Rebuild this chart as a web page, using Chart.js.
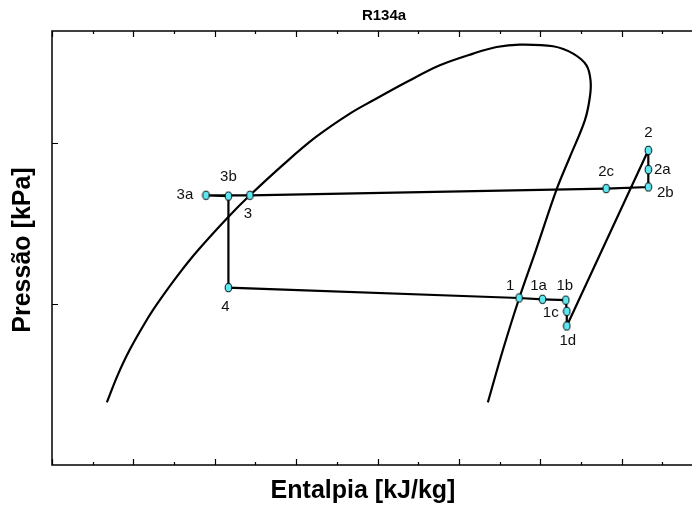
<!DOCTYPE html>
<html>
<head>
<meta charset="utf-8">
<script src="https://cdn.jsdelivr.net/npm/chart.js@4.4.1/dist/chart.umd.min.js"></script>
<style>
  html, body { margin: 0; padding: 0; background: #fff; overflow: hidden; }
  #wrap { width: 692px; height: 506px; overflow: hidden; }
</style>
</head>
<body>
<div id="wrap"><canvas id="phChart" width="720" height="506"></canvas></div>
<script>
// saturation dome (liquid side up to critical point, then vapour side down)
var satH = [133.7, 140.3, 147.6, 159.3, 166.1, 177.3, 189.7, 208.3, 221.6, 242.8, 262.2, 283.0, 297.4, 317.9, 338.3,
  358.8, 373.2, 387.5, 407.9, 420.2, 428.4, 430.9, 430.5, 427.4, 418.2, 410.0, 397.3, 387.1, 377.0, 367.8];
var satP = [24.5, 36.1, 51.7, 83.2, 105.7, 151.2, 216.3, 348.6, 475.5, 748.8, 1096, 1532, 1854, 2409, 3060,
  3618, 3977, 4116, 4017, 3618, 3060, 2469, 1944, 1392, 823, 516, 216.3, 109.3, 51.7, 24.5];

// cycle state points
var stateNames = ['1', '1a', '1b', '1c', '1d', '2', '2a', '2b', '2c', '3', '3a', '3b', '4'];
var stateH = [387.0, 401.4, 415.7, 416.3, 416.3, 466.4, 466.4, 466.4, 440.5, 221.6, 194.6, 208.4, 208.4];
var stateP = [109.3, 107.3, 106.0, 90.3, 73.2, 905.7, 687.0, 535.7, 523.6, 475.5, 475.5, 470.0, 126.8];
var cycleOrder = ['1', '1a', '1b', '1c', '1d', '2', '2a', '2b', '2c', '3', '3a', '3b', '4', '1'];

// axis ticks (no tick labels in the original)
var hTicks = [100, 125, 150, 175, 200, 225, 250, 275, 300, 325, 350, 375, 400, 425, 450, 475, 500];
var pTicks = [100, 1000];

// where each state label sits relative to its marker
var labelOffsets = {
  '1': [-9, -12], '1a': [-4, -13], '1b': [-1, -14], '1c': [-16, 2], '1d': [1, 15],
  '2': [0, -17], '2a': [14, 0], '2b': [17, 6], '2c': [0, -17],
  '3': [-2, 19], '3a': [-21, 0], '3b': [0, -19], '4': [-3, 19]
};

var domePoints = satH.map(function (h, i) {
  return { x: h, y: satP[i] };
});
var cyclePoints = cycleOrder.map(function (name) {
  var i = stateNames.indexOf(name);
  return { x: stateH[i], y: stateP[i] };
});
var markerPoints = stateNames.map(function (name, i) {
  return { x: stateH[i], y: stateP[i] };
});

// small oval marker like the original
var marker = document.createElement('canvas');
marker.width = 9;
marker.height = 11;
var mctx = marker.getContext('2d');
mctx.beginPath();
mctx.ellipse(4.5, 5.5, 3.3, 4.2, 0, 0, Math.PI * 2);
mctx.fillStyle = '#5ee8f2';
mctx.fill();
mctx.lineWidth = 1;
mctx.strokeStyle = '#000';
mctx.stroke();

var framePlugin = {
  id: 'frame',
  afterDraw: function (chart) {
    var ctx = chart.ctx;
    var a = chart.chartArea;
    var x = chart.scales.x;
    var y = chart.scales.y;
    ctx.save();
    ctx.strokeStyle = '#000';
    ctx.lineWidth = 1.5;
    ctx.strokeRect(a.left, a.top, a.right - a.left, a.bottom - a.top);

    ctx.lineWidth = 1.2;
    ctx.beginPath();
    hTicks.forEach(function (h) {
      var px = Math.round(x.getPixelForValue(h)) + 0.5;
      var len = (h % 50 === 0) ? 6 : 3;
      ctx.moveTo(px, a.bottom);
      ctx.lineTo(px, a.bottom - len);
      ctx.moveTo(px, a.top);
      ctx.lineTo(px, a.top + len);
    });
    pTicks.forEach(function (p) {
      var py = Math.round(y.getPixelForValue(p)) + 0.5;
      ctx.moveTo(a.left, py);
      ctx.lineTo(a.left + 6, py);
    });
    ctx.stroke();

    // state labels
    ctx.fillStyle = '#111';
    ctx.font = '15px "Liberation Sans", Arial, sans-serif';
    ctx.textAlign = 'center';
    ctx.textBaseline = 'middle';
    stateNames.forEach(function (name, i) {
      var off = labelOffsets[name];
      ctx.fillText(name, x.getPixelForValue(stateH[i]) + off[0], y.getPixelForValue(stateP[i]) + off[1]);
    });

    // titles
    ctx.fillStyle = '#000';
    ctx.font = 'bold 15px "Liberation Sans", Arial, sans-serif';
    ctx.fillText('R134a', 384, 16);
    ctx.font = 'bold 25px "Liberation Sans", Arial, sans-serif';
    ctx.textBaseline = 'alphabetic';
    ctx.fillText('Entalpia [kJ/kg]', 363, 498);
    ctx.translate(30, 250);
    ctx.rotate(-Math.PI / 2);
    ctx.fillText('Pressão [kPa]', 0, 0);
    ctx.restore();
  }
};

var phCtx = document.getElementById('phChart').getContext('2d');
var phChart = new Chart(phCtx, {
  type: 'scatter',
  data: {
    datasets: [{
      label: 'Saturação',
      data: domePoints,
      showLine: true,
      borderColor: '#000',
      borderWidth: 2.2,
      pointRadius: 0,
      tension: 0.35,
      fill: false,
      order: 2
    }, {
      label: 'Ciclo',
      data: cyclePoints,
      showLine: true,
      borderColor: '#000',
      borderWidth: 2.2,
      pointRadius: 0,
      tension: 0,
      fill: false,
      order: 1
    }, {
      label: 'Estados',
      data: markerPoints,
      showLine: false,
      pointStyle: marker,
      pointRadius: 4,
      order: 0
    }]
  },
  options: {
    responsive: false,
    animation: false,
    layout: {
      padding: { left: 52, right: 17, top: 31, bottom: 41 }
    },
    plugins: {
      legend: { display: false },
      tooltip: { enabled: false },
      title: { display: false }
    },
    scales: {
      x: {
        type: 'linear',
        display: false,
        min: 100,
        max: 500
      },
      y: {
        type: 'logarithmic',
        display: false,
        min: 10,
        max: 5000
      }
    }
  },
  plugins: [framePlugin]
});
</script>
</body>
</html>
